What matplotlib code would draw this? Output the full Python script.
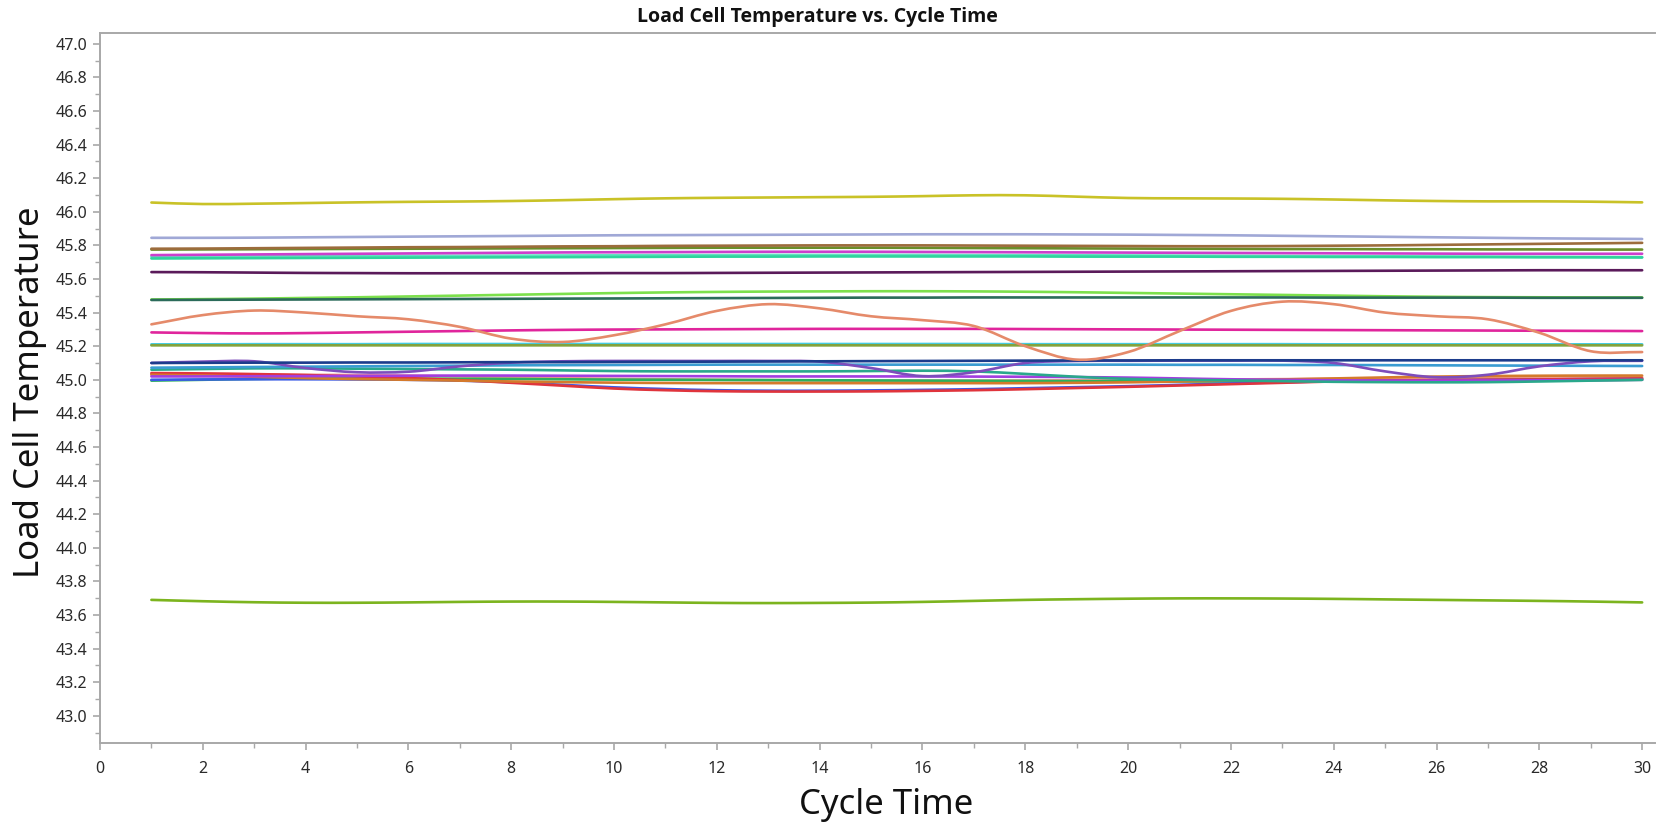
import numpy as np
import matplotlib
matplotlib.use("Agg")
import matplotlib.pyplot as plt
from matplotlib.path import Path
from matplotlib.patches import PathPatch
from matplotlib.ticker import MultipleLocator, FormatStrFormatter

plt.rcParams['font.family'] = ['Noto Sans', 'DejaVu Sans']

cycle = np.arange(1, 31)

# Load cell temperature readings per cycle, one list per cell
t_yellow = [46.055, 46.046, 46.048, 46.052, 46.056, 46.059, 46.061, 46.064, 46.069, 46.075,
            46.080, 46.083, 46.085, 46.087, 46.089, 46.093, 46.098, 46.098, 46.090, 46.082,
            46.080, 46.079, 46.077, 46.073, 46.068, 46.064, 46.062, 46.062, 46.060, 46.056]
t_lavender = [45.845, 45.845, 45.846, 45.848, 45.850, 45.852, 45.854, 45.856, 45.858, 45.860,
              45.861, 45.862, 45.863, 45.864, 45.865, 45.866, 45.866, 45.866, 45.865, 45.864,
              45.862, 45.860, 45.857, 45.854, 45.851, 45.848, 45.845, 45.842, 45.840, 45.838]
t_brown = [45.780, 45.781, 45.783, 45.785, 45.787, 45.789, 45.790, 45.792, 45.794, 45.795,
           45.797, 45.798, 45.799, 45.800, 45.800, 45.800, 45.799, 45.798, 45.797, 45.796,
           45.795, 45.795, 45.796, 45.798, 45.800, 45.803, 45.806, 45.809, 45.812, 45.815]
t_olive_dark = [45.775, 45.776, 45.777, 45.778, 45.779, 45.780, 45.781, 45.782, 45.783, 45.784,
                45.785, 45.786, 45.786, 45.786, 45.786, 45.785, 45.784, 45.783, 45.782, 45.781,
                45.780, 45.779, 45.778, 45.778, 45.777, 45.777, 45.776, 45.776, 45.775, 45.775]
t_orchid = [45.742, 45.744, 45.746, 45.748, 45.750, 45.752, 45.754, 45.756, 45.758, 45.759,
            45.760, 45.761, 45.762, 45.762, 45.762, 45.761, 45.760, 45.759, 45.758, 45.757,
            45.756, 45.755, 45.754, 45.753, 45.752, 45.751, 45.750, 45.750, 45.750, 45.750]
t_mint = [45.732, 45.733, 45.734, 45.735, 45.736, 45.737, 45.738, 45.739, 45.740, 45.741,
          45.742, 45.742, 45.743, 45.743, 45.743, 45.743, 45.742, 45.742, 45.741, 45.740,
          45.739, 45.738, 45.737, 45.736, 45.735, 45.734, 45.733, 45.732, 45.731, 45.730]
t_turquoise = [45.722, 45.723, 45.724, 45.725, 45.726, 45.727, 45.728, 45.729, 45.730, 45.731,
               45.732, 45.733, 45.733, 45.734, 45.734, 45.734, 45.734, 45.734, 45.733, 45.733,
               45.733, 45.732, 45.732, 45.731, 45.731, 45.730, 45.730, 45.729, 45.729, 45.728]
t_plum = [45.641, 45.640, 45.638, 45.636, 45.635, 45.634, 45.634, 45.634, 45.634, 45.635,
          45.635, 45.636, 45.637, 45.638, 45.639, 45.640, 45.641, 45.642, 45.643, 45.644,
          45.645, 45.646, 45.647, 45.648, 45.649, 45.650, 45.651, 45.652, 45.652, 45.652]
t_lightgreen = [45.478, 45.480, 45.483, 45.487, 45.491, 45.496, 45.501, 45.506, 45.511, 45.516,
                45.520, 45.523, 45.525, 45.526, 45.527, 45.527, 45.526, 45.524, 45.521, 45.517,
                45.513, 45.509, 45.505, 45.501, 45.497, 45.494, 45.492, 45.491, 45.490, 45.490]
t_darkteal = [45.475, 45.476, 45.477, 45.478, 45.479, 45.480, 45.481, 45.482, 45.483, 45.484,
              45.485, 45.486, 45.487, 45.488, 45.489, 45.489, 45.490, 45.490, 45.490, 45.490,
              45.490, 45.490, 45.490, 45.489, 45.489, 45.489, 45.489, 45.488, 45.488, 45.488]
t_salmon = [45.330, 45.385, 45.412, 45.400, 45.378, 45.360, 45.315, 45.245, 45.225, 45.265,
            45.330, 45.410, 45.450, 45.425, 45.378, 45.355, 45.320, 45.200, 45.120, 45.165,
            45.290, 45.410, 45.465, 45.450, 45.400, 45.378, 45.360, 45.280, 45.170, 45.165]
t_deeppink = [45.282, 45.278, 45.276, 45.278, 45.282, 45.286, 45.290, 45.294, 45.297, 45.299,
              45.300, 45.301, 45.302, 45.303, 45.303, 45.303, 45.303, 45.302, 45.301, 45.300,
              45.299, 45.298, 45.297, 45.296, 45.295, 45.294, 45.293, 45.292, 45.291, 45.290]
t_cyan = [45.211, 45.211, 45.212, 45.212, 45.212, 45.213, 45.213, 45.213, 45.213, 45.213,
          45.213, 45.213, 45.213, 45.213, 45.213, 45.213, 45.213, 45.212, 45.212, 45.212,
          45.212, 45.212, 45.212, 45.211, 45.211, 45.211, 45.211, 45.211, 45.211, 45.211]
t_olive = [45.205, 45.205, 45.205, 45.205, 45.205, 45.205, 45.205, 45.205, 45.205, 45.205,
           45.205, 45.205, 45.205, 45.205, 45.205, 45.205, 45.205, 45.205, 45.205, 45.205,
           45.205, 45.205, 45.205, 45.205, 45.205, 45.205, 45.205, 45.205, 45.205, 45.205]
t_navy = [45.100, 45.101, 45.102, 45.102, 45.103, 45.103, 45.104, 45.105, 45.105, 45.106,
          45.107, 45.108, 45.109, 45.110, 45.111, 45.112, 45.113, 45.114, 45.115, 45.115,
          45.116, 45.116, 45.116, 45.116, 45.116, 45.116, 45.116, 45.116, 45.116, 45.116]
t_steel = [45.072, 45.074, 45.076, 45.078, 45.080, 45.082, 45.084, 45.086, 45.087, 45.088,
           45.089, 45.090, 45.090, 45.090, 45.090, 45.090, 45.090, 45.090, 45.090, 45.090,
           45.089, 45.089, 45.088, 45.088, 45.087, 45.086, 45.085, 45.084, 45.083, 45.082]
t_purple = [45.100, 45.108, 45.110, 45.070, 45.045, 45.048, 45.080, 45.102, 45.110, 45.112,
            45.112, 45.112, 45.112, 45.108, 45.070, 45.022, 45.045, 45.100, 45.112, 45.113,
            45.114, 45.114, 45.114, 45.100, 45.050, 45.015, 45.030, 45.080, 45.110, 45.113]
t_teal = [45.060, 45.064, 45.068, 45.068, 45.066, 45.064, 45.062, 45.060, 45.056, 45.052,
          45.050, 45.050, 45.050, 45.050, 45.052, 45.054, 45.050, 45.035, 45.018, 45.005,
          45.000, 44.996, 44.992, 44.988, 44.986, 44.985, 44.986, 44.990, 44.995, 45.000]
t_violet = [45.020, 45.020, 45.021, 45.022, 45.023, 45.024, 45.025, 45.025, 45.024, 45.023,
            45.022, 45.021, 45.020, 45.020, 45.020, 45.020, 45.019, 45.018, 45.016, 45.013,
            45.008, 45.003, 45.000, 44.997, 44.995, 44.995, 44.996, 44.997, 44.998, 45.000]
t_pink = [45.034, 45.033, 45.032, 45.030, 45.028, 45.025, 45.020, 45.015, 45.010, 45.006,
          45.003, 45.000, 44.998, 44.996, 44.995, 44.995, 44.995, 44.996, 44.997, 44.998,
          45.000, 45.002, 45.004, 45.006, 45.008, 45.010, 45.012, 45.013, 45.014, 45.015]
t_orange = [45.030, 45.025, 45.018, 45.010, 45.004, 45.000, 44.995, 44.990, 44.986, 44.983,
            44.981, 44.980, 44.980, 44.980, 44.980, 44.980, 44.980, 44.980, 44.982, 44.985,
            44.990, 44.996, 45.002, 45.008, 45.014, 45.019, 45.022, 45.024, 45.025, 45.025]
t_green = [44.995, 45.000, 45.005, 45.008, 45.008, 45.007, 45.006, 45.005, 45.003, 45.001,
           45.000, 44.999, 44.998, 44.997, 44.996, 44.995, 44.994, 44.993, 44.992, 44.991,
           44.990, 44.990, 44.990, 44.991, 44.992, 44.993, 44.995, 44.996, 44.998, 45.000]
t_blue = [45.000, 45.002, 45.003, 45.003, 45.002, 45.000, 44.995, 44.985, 44.970, 44.955,
          44.945, 44.938, 44.935, 44.935, 44.937, 44.940, 44.944, 44.950, 44.956, 44.962,
          44.970, 44.978, 44.985, 44.991, 44.995, 44.998, 45.000, 45.002, 45.004, 45.006]
t_red = [45.040, 45.038, 45.034, 45.028, 45.020, 45.010, 44.998, 44.982, 44.965, 44.948,
         44.938, 44.932, 44.930, 44.930, 44.931, 44.934, 44.938, 44.944, 44.951, 44.958,
         44.966, 44.974, 44.982, 44.990, 44.995, 44.998, 45.000, 45.002, 45.005, 45.008]
t_yellowgreen = [43.690, 43.682, 43.676, 43.673, 43.673, 43.675, 43.678, 43.680, 43.680, 43.678,
                 43.675, 43.672, 43.671, 43.672, 43.674, 43.678, 43.684, 43.690, 43.694, 43.697,
                 43.699, 43.699, 43.698, 43.696, 43.693, 43.690, 43.687, 43.684, 43.680, 43.675]

series = [
    (t_yellowgreen, "#7cb41e"),
    (t_yellow, "#c9c227"),
    (t_lavender, "#a0a8d6"),
    (t_mint, "#63e2c2"),
    (t_turquoise, "#2fd49c"),
    (t_orchid, "#cc3fcc"),
    (t_olive_dark, "#6b8e2a"),
    (t_brown, "#9c6c3c"),
    (t_plum, "#5a1a5a"),
    (t_lightgreen, "#7de04c"),
    (t_darkteal, "#2b6b5a"),
    (t_cyan, "#45cbe0"),
    (t_olive, "#84a33c"),
    (t_deeppink, "#e0259c"),
    (t_pink, "#f19c8c"),
    (t_green, "#2bb05c"),
    (t_blue, "#3a5ae6"),
    (t_red, "#e0343c"),
    (t_orange, "#d47a2c"),
    (t_violet, "#a23ee0"),
    (t_teal, "#2aa88c"),
    (t_steel, "#3a9cd2"),
    (t_purple, "#7d4dbb"),
    (t_navy, "#1c3c8c"),
    (t_salmon, "#e58a6a"),
]


def smooth_path(x, y):
    """Cubic Bezier path through every (x, y) point (Catmull-Rom tangents)."""
    x = np.asarray(x, float)
    y = np.asarray(y, float)
    n = len(x)
    dx = np.gradient(x)
    dy = np.gradient(y)
    verts = [(x[0], y[0])]
    codes = [Path.MOVETO]
    for i in range(n - 1):
        h = (x[i + 1] - x[i]) / 3.0
        verts.append((x[i] + h, y[i] + dy[i] / dx[i] * h))
        verts.append((x[i + 1] - h, y[i + 1] - dy[i + 1] / dx[i + 1] * h))
        verts.append((x[i + 1], y[i + 1]))
        codes += [Path.CURVE4] * 3
    return Path(verts, codes)


fig = plt.figure(figsize=(16.7, 8.27), dpi=100)
ax = fig.add_axes([100 / 1670, 1 - 742.7 / 827, 1555 / 1670, (742.7 - 33) / 827])

for vals, col in series:
    ax.add_patch(PathPatch(smooth_path(cycle, vals), facecolor='none',
                           edgecolor=col, lw=1.9, capstyle='round', joinstyle='round'))

ax.set_xlim(0, 30.25)
ax.set_ylim(42.84, 47.064)

ax.xaxis.set_major_locator(MultipleLocator(2))
ax.xaxis.set_minor_locator(MultipleLocator(1))
ax.yaxis.set_major_locator(MultipleLocator(0.2))
ax.yaxis.set_minor_locator(MultipleLocator(0.1))
ax.yaxis.set_major_formatter(FormatStrFormatter('%.1f'))

grey = '#a8a8a8'
for side in ['left', 'bottom', 'top']:
    ax.spines[side].set_color(grey)
    ax.spines[side].set_linewidth(1.4)
ax.spines['right'].set_visible(False)

ax.tick_params(axis='both', which='major', length=5, width=1.2, color=grey,
               labelsize=11.5, labelcolor='#2a2a2a', pad=4)
ax.tick_params(axis='both', which='minor', length=3.5, width=1.0, color=grey)
ax.tick_params(axis='x', which='major', pad=8)

fig.text(817 / 1670, 1 - 17 / 827, "Load Cell Temperature vs. Cycle Time",
         ha='center', va='center', fontsize=14, fontweight='bold', color='#111111',
         family=['Open Sans', 'DejaVu Sans'])
fig.text(30 / 1670, 1 - 392 / 827, "Load Cell Temperature", rotation=90,
         ha='center', va='center', fontsize=25, color='#111111')
fig.text(886 / 1670, 1 - 805 / 827, "Cycle Time",
         ha='center', va='center', fontsize=25, color='#111111')

fig.savefig("out.png", dpi=100, facecolor='white')
